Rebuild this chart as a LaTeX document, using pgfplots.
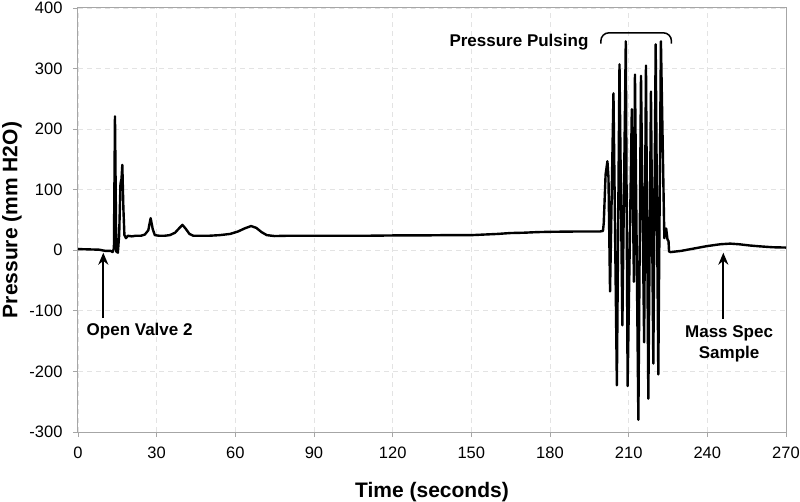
\documentclass[border=0pt]{standalone}
\usepackage{pgfplots}
\pgfplotsset{compat=1.18}
\usepackage{fontspec}
\setmainfont{Liberation Sans}
\usetikzlibrary{arrows.meta}
\begin{document}
\begin{tikzpicture}
\begin{axis}[
 scale only axis, width=708pt, height=424pt,
 xmin=0, xmax=270, ymin=-300, ymax=400,
 xtick={0,30,...,270}, ytick={-300,-200,...,400},
 xtick pos=bottom, ytick pos=left,
 tick align=outside, major tick length=5pt,
 tick style={gray!70, line width=0.8pt},
 axis line style={gray!70, line width=1pt},
 grid=major, major grid style={gray!22, dash pattern=on 5pt off 4pt, line width=0.8pt},
 tick label style={font=\fontsize{16.5}{18}\selectfont},
 /pgf/number format/assume math mode=true,
 xlabel={Time (seconds)}, ylabel={Pressure (mm H2O)},
 label style={font=\fontsize{21}{24}\selectfont\bfseries},
 xlabel style={at={(axis description cs:0.5,-0.1415)}, anchor=center},
 ylabel style={at={(axis description cs:-0.0932,0.5)}, anchor=center},
 yticklabel style={xshift=-7pt},
 xticklabel style={yshift=-6pt},
]
\coordinate (LL) at (rel axis cs:0,0);
\coordinate (UR) at (rel axis cs:1,1);
\addplot[black, line width=2.4pt, line join=round, no marks] table {
t v
0 2
4 1.5
8 1
10.5 -1
12.5 -1
13.2 -3
13.7 3
14.1 221
14.6 -2
15.2 -4
15.7 25
16.2 110
16.6 118
16.9 141
17.3 70
17.7 25
18.3 20
19 24
20.5 23
22 24
24 24
25.5 26
26.8 33
27.7 53
28.5 35
29.3 25
31 24
33 24
35 25
37 29
38.5 36
39.8 42
41 36
42.5 27
44 24
47 24
50 24
54 25
58 27
61 31
63.5 36
66 40
68 37
70 30
72 25
75 23.5
80 24
90 24
100 24
110 24
120 24.5
130 24.5
140 25
150 25
155 26
160 27
165 28.5
170 29
175 30
180 30.5
190 31
199 31
200.2 32
200.5 45
201.2 125
201.9 147
202.3 120
202.9 -68
204.2 259
205.5 -223
206.5 307
207.6 -124
208.9 345
209.6 -224
211.2 233
212.0 -52
212.4 290
213.7 -280
214.7 288
215.9 -152
216.6 305
217.5 -245
218.5 262
219.4 -187
220.3 340
221.3 -205
222.3 345
223.6 20
224.3 36
224.8 18
225.2 15
225.4 -2
226 -3
230 -1
235 3
240 7
245 10
248.7 11
252 10
256 8
260 6.5
265 5
270 4.5
};
\draw[line width=2pt, -{Stealth[length=12pt, width=10pt]}] (axis cs:9.65,-112) -- (axis cs:9.65,-4);
\node[font=\fontsize{17}{20}\selectfont\bfseries] at (axis cs:23.5,-133) {Open Valve 2};
\draw[line width=2pt, -{Stealth[length=12pt, width=10pt]}] (axis cs:246.1,-113) -- (axis cs:246.1,-4);
\node[font=\fontsize{17}{21}\selectfont\bfseries, align=center] at (axis cs:248.3,-155) {Mass Spec\\Sample};
\node[font=\fontsize{17}{20}\selectfont\bfseries, anchor=east] at (axis cs:196,344) {Pressure Pulsing};
\draw[line width=1.5pt, rounded corners=8pt] (axis cs:199.4,341) -- (axis cs:199.4,359) -- (axis cs:226.3,359) -- (axis cs:226.3,341);
\end{axis}
\pgfresetboundingbox
\path ([xshift=-78pt,yshift=-69pt]LL) rectangle ([xshift=14pt,yshift=8pt]UR);
\end{tikzpicture}
\end{document}
